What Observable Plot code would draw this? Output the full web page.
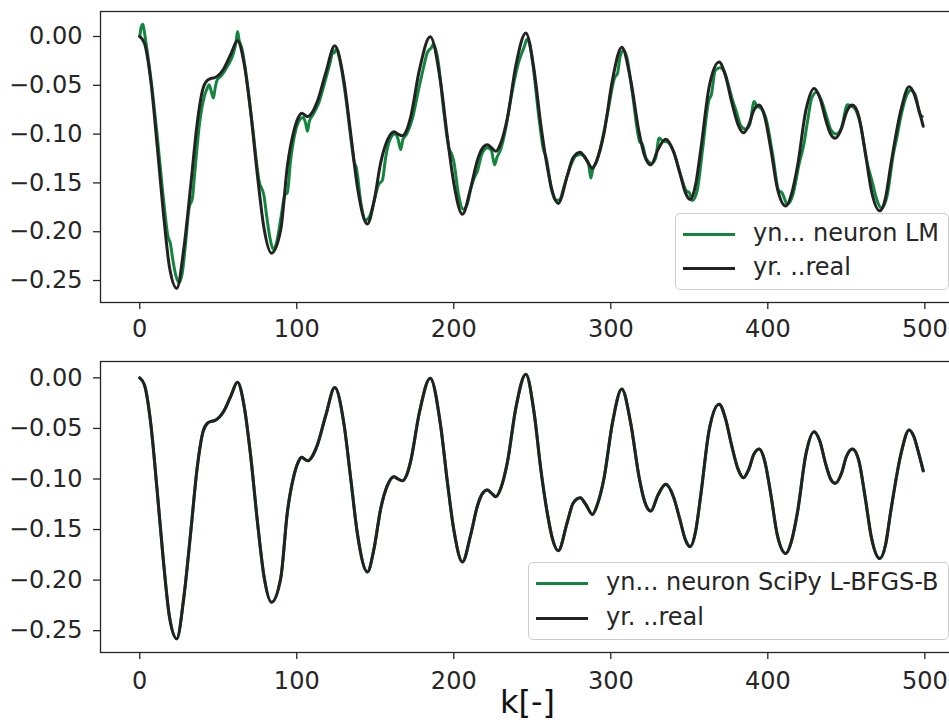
<!DOCTYPE html>
<html><head><meta charset="utf-8">
<script src="https://cdn.jsdelivr.net/npm/d3@7"></script>
<script src="https://cdn.jsdelivr.net/npm/@observablehq/plot@0.6"></script>
<style>
html,body{margin:0;padding:0;background:#fff;overflow:hidden;width:949px;height:722px;}
#wrap{position:relative;width:949px;height:722px;overflow:hidden;font-family:"DejaVu Sans";}
.panel{position:absolute;left:0;}
.panel svg text{font-family:"DejaVu Sans" !important;}
.panel [aria-label="x-axis tick label"], .panel [aria-label="y-axis tick label"]{font-size:24px !important;}
.legend{position:absolute;border:1.5px solid #cccccc;border-radius:5px;background:rgba(255,255,255,0.85);box-sizing:border-box;font-family:"DejaVu Sans";font-size:24px;color:#262626;}
.sw{position:absolute;left:7px;width:52px;height:3px;}
.lt{position:absolute;left:77px;line-height:28px;white-space:nowrap;}
</style></head>
<body><div id="wrap">
<div id="p1" class="panel" style="top:0"></div>
<div id="p2" class="panel" style="top:345px"></div>
<div class="legend" style="left:675px;top:213px;width:274px;height:77px;">
  <div class="sw" style="top:19px;background:#15843f"></div><div class="lt" style="top:5px">yn... neuron LM</div>
  <div class="sw" style="top:53px;background:#222222"></div><div class="lt" style="top:39px">yr. ..real</div>
</div>
<div class="legend" style="left:528px;top:562px;width:421px;height:78px;">
  <div class="sw" style="top:19px;background:#15843f"></div><div class="lt" style="top:5px">yn... neuron SciPy L-BFGS-B</div>
  <div class="sw" style="top:54px;background:#222222"></div><div class="lt" style="top:40px">yr. ..real</div>
</div>
</div>
<script>
// ---- data ----
const xTicks = [0, 100, 200, 300, 400, 500];
const yTicks = [0, -0.05, -0.1, -0.15, -0.2, -0.25];

// real output yr (black)
const kReal = [0,3,7,11,15,19,23.6,28,32.5,36.5,40,43,45.5,48,53.5,58,62.2,66.5,70.7,75,79.2,83.9,89.8,94,98.3,101,103.2,105.5,107.2,109,113.2,118.5,124.2,130,134.4,138.7,145,149.2,153.5,157.8,162,164.5,167.3,170,172.6,178,185,191.7,196,200.2,205.5,210.8,215,218,221.4,224,226.8,230,234.2,239.5,245.9,251.2,255.4,259.7,263,266.5,272.4,276,280.5,284,288.3,291.5,295.7,301,307,312.7,318,321.5,325.5,330,335,340,344,347.5,350.5,354,357.3,362.6,369,373,377,381,384.5,388,391,394.5,398,402,406,411.5,415,419,424.2,429.5,433,437,440,442.9,447,450,453.9,458,462,466,471.3,475,478.3,484.7,490,493,496,499];
const yReal = [0,-0.007,-0.045,-0.11,-0.18,-0.237,-0.258,-0.218,-0.152,-0.09,-0.055,-0.045,-0.043,-0.042,-0.033,-0.018,-0.0043,-0.028,-0.078,-0.143,-0.197,-0.222,-0.198,-0.133,-0.096,-0.083,-0.0786,-0.081,-0.082,-0.0796,-0.066,-0.037,-0.0096,-0.045,-0.1,-0.155,-0.192,-0.169,-0.129,-0.106,-0.0977,-0.1,-0.1017,-0.096,-0.082,-0.035,-0.0003,-0.048,-0.104,-0.152,-0.182,-0.155,-0.127,-0.115,-0.111,-0.114,-0.1175,-0.109,-0.083,-0.03,0.0036,-0.035,-0.09,-0.135,-0.16,-0.171,-0.142,-0.124,-0.1185,-0.125,-0.135,-0.125,-0.099,-0.045,-0.0109,-0.045,-0.098,-0.122,-0.1317,-0.116,-0.1053,-0.118,-0.14,-0.16,-0.167,-0.152,-0.116,-0.052,-0.0261,-0.04,-0.067,-0.09,-0.0987,-0.09,-0.076,-0.0703,-0.082,-0.116,-0.155,-0.1737,-0.162,-0.132,-0.076,-0.0532,-0.062,-0.086,-0.1,-0.1043,-0.094,-0.078,-0.0703,-0.082,-0.118,-0.158,-0.1786,-0.165,-0.132,-0.076,-0.0515,-0.058,-0.074,-0.092];

// neuron output, LM training (green, top)
const kLM = [0,1,2,3,5,8,11,15,18,19.5,21,23,25,27,29,31.5,33.5,35,38,41,43,44.2,45.5,46.9,48,49.2,52,56,59.5,61.3,62.3,63.3,65,68,72,76,79.2,80.5,83,85,87,90,92.5,94,96,99.5,102,104,105.5,106.8,108,110,114,118,121.5,123,123.8,125,127.5,131,134.5,136.5,138,141,144,146.5,149.5,152,154.6,156.5,159.5,162.5,164.5,166.2,167.5,170,173.5,177.5,181,183,184.3,185.5,187,190,193.5,197,198.5,200,203,206,208.5,211,213,215,218,221.5,224,226,227.5,230,233,237,241,243.8,245,246.5,248,250.5,254,257,259,262,265,267.5,270,272.4,275,278,281,284,286,287.3,288.5,291,294,298,302.5,304.3,306,308,310,313.5,318.5,320,322.5,326,328.5,330.8,333,336,340,344.5,348,350,352,355,358.5,362.5,364,366.5,369.5,372,375,377.5,380,383,386,388.5,391.3,393,396,399,403,407,409,412.5,416,420,423,425,428,431,434,438,440,443.5,447,450.7,453,455.5,459,463,467,469,472.5,476,480,482,485,488.5,491,494,497,498.5];
const yLM = [0,0.01,0.0125,0.004,-0.018,-0.055,-0.1,-0.165,-0.205,-0.212,-0.228,-0.245,-0.252,-0.243,-0.215,-0.175,-0.166,-0.14,-0.09,-0.062,-0.053,-0.0495,-0.056,-0.063,-0.053,-0.045,-0.04,-0.03,-0.018,-0.006,0.005,-0.004,-0.012,-0.042,-0.095,-0.148,-0.164,-0.18,-0.207,-0.218,-0.212,-0.185,-0.162,-0.16,-0.128,-0.095,-0.085,-0.083,-0.088,-0.097,-0.087,-0.081,-0.068,-0.046,-0.025,-0.015,-0.017,-0.013,-0.025,-0.06,-0.105,-0.128,-0.135,-0.172,-0.188,-0.184,-0.167,-0.152,-0.147,-0.125,-0.105,-0.1,-0.105,-0.116,-0.106,-0.1,-0.085,-0.055,-0.03,-0.017,-0.0137,-0.012,-0.008,-0.025,-0.075,-0.115,-0.12,-0.128,-0.162,-0.177,-0.172,-0.155,-0.145,-0.138,-0.12,-0.114,-0.117,-0.1315,-0.124,-0.115,-0.095,-0.058,-0.028,-0.015,-0.01,-0.003,-0.006,-0.03,-0.08,-0.115,-0.125,-0.155,-0.168,-0.167,-0.155,-0.142,-0.13,-0.122,-0.121,-0.125,-0.132,-0.145,-0.136,-0.128,-0.11,-0.078,-0.042,-0.0376,-0.02,-0.014,-0.02,-0.055,-0.108,-0.11,-0.125,-0.13,-0.125,-0.104,-0.107,-0.108,-0.118,-0.142,-0.158,-0.16,-0.168,-0.158,-0.115,-0.065,-0.06,-0.035,-0.032,-0.035,-0.05,-0.065,-0.077,-0.092,-0.095,-0.09,-0.0666,-0.071,-0.074,-0.085,-0.12,-0.158,-0.16,-0.172,-0.162,-0.13,-0.11,-0.09,-0.063,-0.057,-0.065,-0.085,-0.095,-0.1,-0.093,-0.07,-0.071,-0.074,-0.09,-0.127,-0.152,-0.165,-0.176,-0.163,-0.12,-0.105,-0.08,-0.06,-0.055,-0.06,-0.08,-0.082];

// neuron output, SciPy L-BFGS-B training (green, bottom) — coincides with the real output in the picture
const kSciPy = kReal;
const ySciPy = yReal;

const GREEN = "#15843f", BLACK = "#222222", INK = "#262626";

function toRows(ks, ys) { return ks.map((k, i) => ({k, y: ys[i]})); }
const fmtY = d => (Math.abs(d) < 1e-9 ? "0.00" : (d < 0 ? "\u2212" : "") + Math.abs(d).toFixed(2));

function panel(green, black, yDomain, mt, mb, h, tickPad, extra) {
  const fig = Plot.plot({
    width: 962, height: h,
    marginLeft: 100, marginRight: 0, marginTop: mt, marginBottom: mb,
    x: {domain: [-25, 524]},
    y: {domain: yDomain},
    style: {fontFamily: "DejaVu Sans", fontSize: "24px", color: INK, background: "white"},
    marks: [
      Plot.axisX({ticks: xTicks, tickSize: 7, tickPadding: tickPad, tickFormat: d => String(d), label: null, fontSize: 24, strokeWidth: 1.3}),
      Plot.axisY({ticks: yTicks, tickSize: 7, tickPadding: 11, tickFormat: fmtY, label: null, fontSize: 24, strokeWidth: 1.3}),
      Plot.line(green, {x: "k", y: "y", stroke: GREEN, strokeWidth: 3, curve: "monotone-x"}),
      Plot.line(black, {x: "k", y: "y", stroke: BLACK, strokeWidth: 3, curve: "monotone-x"}),
      Plot.frame({stroke: INK, strokeWidth: 1.3}),
      ...(extra || [])
    ]
  });
  fig.style.maxWidth = "none";
  return fig;
}

document.getElementById("p1").appendChild(
  panel(toRows(kLM, yLM), toRows(kReal, yReal), [-0.2725, 0.0256], 11, 43, 345, 10)
);
document.getElementById("p2").appendChild(
  panel(toRows(kSciPy, ySciPy), toRows(kReal, yReal), [-0.2716, 0.0162], 16, 70, 377, 12, [
    Plot.text(["k[-]"], {text: d => d, frameAnchor: "bottom", dy: 50, dx: -4, fontSize: 32, lineAnchor: "middle", fill: "#111"})
  ])
);
</script>
</body></html>
